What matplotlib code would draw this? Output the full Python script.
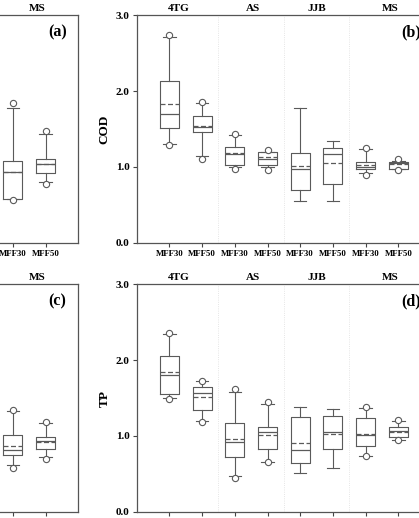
import matplotlib
matplotlib.use('Agg')
import matplotlib.pyplot as plt

plt.rcParams['font.family'] = ['Liberation Serif', 'DejaVu Serif']
plt.rcParams['font.weight'] = 'bold'

# categories
groups = ['4TG', 'AS', 'JJB', 'MS']
group_x = [1.28, 3.57, 5.52, 7.75]
tick_labels = ['MFF30', 'MFF50'] * 4

# COD, panel (b): 8 boxes
cod_lo = [1.30, 1.14, 1.00, 1.00, 0.55, 0.55, 0.92, 0.97]
cod_q1 = [1.52, 1.46, 1.02, 1.02, 0.70, 0.78, 0.97, 0.97]
cod_med = [1.70, 1.53, 1.17, 1.11, 0.97, 1.17, 1.00, 1.05]
cod_mean = [1.83, 1.54, 1.18, 1.13, 1.01, 1.05, 1.03, 1.04]
cod_q3 = [2.14, 1.67, 1.26, 1.20, 1.19, 1.25, 1.06, 1.06]
cod_hi = [2.72, 1.85, 1.42, 1.20, 1.78, 1.34, 1.23, 1.08]
cod_fliers = [[1.29, 2.74], [1.11, 1.86], [0.97, 1.44], [0.96, 1.22],
              [], [], [0.89, 1.25], [0.96, 1.10]]

# TP, panel (d)
tp_lo = [1.50, 1.20, 0.47, 0.66, 0.51, 0.58, 0.74, 0.94]
tp_q1 = [1.55, 1.34, 0.72, 0.83, 0.64, 0.83, 0.87, 0.98]
tp_med = [1.80, 1.57, 0.92, 1.05, 0.81, 1.05, 1.01, 1.07]
tp_mean = [1.84, 1.51, 0.96, 1.01, 0.91, 1.03, 1.03, 1.05]
tp_q3 = [2.06, 1.65, 1.17, 1.12, 1.25, 1.26, 1.24, 1.12]
tp_hi = [2.35, 1.72, 1.58, 1.42, 1.38, 1.35, 1.37, 1.20]
tp_fliers = [[1.49, 2.36], [1.19, 1.73], [0.45, 1.62], [0.65, 1.45],
             [], [], [0.73, 1.38], [0.94, 1.21]]

# left panels (a) and (c): only the MS pair is visible
a_lo = [0.57, 0.80]
a_q1 = [0.57, 0.92]
a_med = [0.93, 1.04]
a_mean = [0.93, 1.04]
a_q3 = [1.08, 1.11]
a_hi = [1.78, 1.44]
a_fliers = [[0.56, 1.85], [0.78, 1.47]]

c_lo = [0.61, 0.72]
c_q1 = [0.75, 0.83]
c_med = [0.82, 0.93]
c_mean = [0.87, 0.92]
c_q3 = [1.01, 0.99]
c_hi = [1.33, 1.17]
c_fliers = [[0.58, 1.34], [0.70, 1.19]]

box_col = '#5a5a5a'


def make_stats(lo, q1, med, mean, q3, hi, fl):
    return [dict(whislo=lo[i], q1=q1[i], med=med[i], mean=mean[i], q3=q3[i],
                 whishi=hi[i], fliers=fl[i]) for i in range(len(lo))]


def draw_panel(ax, stats, positions, label, label_x, ylabel=None, show_xlabels=True):
    ax.bxp(stats, positions=positions, widths=0.58, capwidths=0.38,
           showmeans=True, meanline=True,
           boxprops=dict(color=box_col, lw=0.8),
           whiskerprops=dict(color=box_col, lw=0.8),
           capprops=dict(color=box_col, lw=0.8),
           medianprops=dict(color=box_col, lw=0.9),
           meanprops=dict(color=box_col, lw=0.9, linestyle=(0, (4, 2))),
           flierprops=dict(marker='o', markersize=4.5, markerfacecolor='white',
                           markeredgecolor=box_col, markeredgewidth=0.8))
    for xs in [2.5, 4.5, 6.5]:
        ax.axvline(xs, color='#dddddd', lw=0.6, ls=':', zorder=0)
    ax.set_xlim(0, 9)
    ax.set_ylim(0, 3)
    ax.set_yticks([0, 1, 2, 3])
    ax.set_yticklabels(['0.0', '1.0', '2.0', '3.0'], fontsize=8, fontweight='bold')
    ax.set_xticks(range(1, 9))
    if show_xlabels:
        ax.set_xticklabels(tick_labels, fontsize=6.3, fontweight='bold')
    else:
        ax.set_xticklabels([])
    ax.tick_params(direction='out', length=3, width=0.8, color='#444444', pad=2)
    for s in ax.spines.values():
        s.set_color('#555555')
        s.set_linewidth(0.9)
    for g, gx in zip(groups, group_x):
        ax.text(gx, 3.03, g, ha='center', va='bottom', fontsize=8, fontweight='bold')
    ax.text(label_x, 2.77, label, ha='left', va='center', fontsize=11.5, fontweight='bold')
    if ylabel:
        ax.set_ylabel(ylabel, fontsize=9.5, fontweight='bold', labelpad=4)


fig = plt.figure(figsize=(4.19, 5.18), dpi=100)

W = 294.3 / 419
H = 227.3 / 518
ax_a = fig.add_axes([-0.5155, 0.5315, W, H])
ax_b = fig.add_axes([0.3263, 0.5315, W, H])
ax_c = fig.add_axes([-0.5155, 0.0122, W, H])
ax_d = fig.add_axes([0.3263, 0.0122, W, H])

draw_panel(ax_a, make_stats(a_lo, a_q1, a_med, a_mean, a_q3, a_hi, a_fliers), [7, 8], '(a)', 8.07)
draw_panel(ax_b, make_stats(cod_lo, cod_q1, cod_med, cod_mean, cod_q3, cod_hi, cod_fliers),
           list(range(1, 9)), '(b)', 8.1, ylabel='COD')
draw_panel(ax_c, make_stats(c_lo, c_q1, c_med, c_mean, c_q3, c_hi, c_fliers), [7, 8], '(c)', 8.07,
           show_xlabels=False)
draw_panel(ax_d, make_stats(tp_lo, tp_q1, tp_med, tp_mean, tp_q3, tp_hi, tp_fliers),
           list(range(1, 9)), '(d)', 8.1, ylabel='TP', show_xlabels=False)

fig.savefig('out.png', dpi=100)
